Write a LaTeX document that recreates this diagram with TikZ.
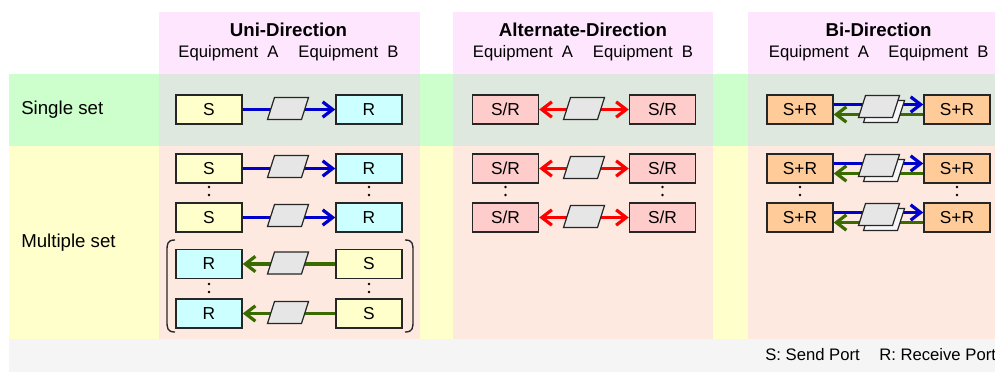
\documentclass[tikz,border=0pt]{standalone}
\usepackage{fontspec}
\setmainfont{Liberation Sans}
\usetikzlibrary{arrows.meta,calc}

% background bands
\definecolor{hdrpink}{HTML}{FFE6FF}
\definecolor{rowgreen}{HTML}{CCFFCC}
\definecolor{rowyellow}{HTML}{FFFFCC}
\definecolor{colgreen}{HTML}{DEE8DE}
\definecolor{colpeach}{HTML}{FDE9E0}
\definecolor{footgray}{HTML}{F5F5F5}
% ports and links
\definecolor{sendfill}{HTML}{FFFFCC}
\definecolor{recvfill}{HTML}{CCFFFF}
\definecolor{altfill}{HTML}{FFCCCC}
\definecolor{bifill}{HTML}{FFCC99}
\definecolor{linkgray}{HTML}{E6E6E6}
\definecolor{linkback}{HTML}{F7F7F7}
\definecolor{sendblue}{HTML}{0000CC}
\definecolor{recvgreen}{HTML}{3A6B00}
\definecolor{dirred}{HTML}{FF0000}
\definecolor{edgegray}{HTML}{262626}

\tikzset{
  port/.style={draw=edgegray, line width=1.1pt, minimum width=49.5pt,
    minimum height=21.75pt, inner sep=0pt, font=\fontsize{13}{15}\selectfont},
  sendport/.style={port, fill=sendfill},
  recvport/.style={port, fill=recvfill},
  altport/.style={port, fill=altfill},
  biport/.style={port, fill=bifill},
  % slanted rectangle = parallelogram link
  link/.style={rectangle, xslant=0.32, minimum width=25.5pt, minimum height=16.5pt,
    inner sep=0pt, draw=edgegray, line width=0.9pt, fill=linkgray},
  backlink/.style={link, fill=linkback},
  fwd/.style={draw=sendblue, line width=2.4pt, -{Straight Barb[length=7.5pt,width=11.5pt]}},
  bwd/.style={draw=recvgreen, line width=2.4pt, -{Straight Barb[length=7.5pt,width=11.5pt]}},
  both/.style={draw=dirred, line width=2.4pt,
    {Straight Barb[length=7.5pt,width=11.5pt]}-{Straight Barb[length=7.5pt,width=11.5pt]}},
  title/.style={font=\bfseries\fontsize{14}{16}\selectfont},
  equip/.style={font=\fontsize{12.5}{14}\selectfont, inner sep=0pt},
  rowlabel/.style={font=\fontsize{14}{16}\selectfont, anchor=west, inner sep=0pt},
  paren/.style={draw=edgegray, line width=1pt},
  dot/.style={fill=black}
}

\begin{document}
\begin{tikzpicture}[x=0.75pt,y=-0.75pt]
\useasboundingbox (0,0) rectangle (995,372);
\fill[white] (0,0) rectangle (995,372);

% row bands
\fill[rowgreen] (9,74) rectangle (995,146);
\fill[rowyellow] (9,146) rectangle (995,339);
\fill[footgray] (9,339) rectangle (995,372);

% column bands
\foreach \xa/\xb in {159/420, 453/713, 748/995}{
  \fill[hdrpink] (\xa,12) rectangle (\xb,74);
  \fill[colgreen] (\xa,74) rectangle (\xb,146);
  \fill[colpeach] (\xa,146) rectangle (\xb,339);
}

% headers
\node[title] (tuni) at (288.5,30) {Uni-Direction};
\node[equip] (euniA) at (228.5,53) {Equipment\ \ A};
\node[equip] (euniB) at (348.5,53) {Equipment\ \ B};
\node[title] (talt) at (583,30) {Alternate-Direction};
\node[equip] (ealtA) at (523,53) {Equipment\ \ A};
\node[equip] (ealtB) at (643,53) {Equipment\ \ B};
\node[title] (tbi) at (878.5,30) {Bi-Direction};
\node[equip] (ebiA) at (819,53) {Equipment\ \ A};
\node[equip] (ebiB) at (938.5,53) {Equipment\ \ B};

% row labels
\node[rowlabel] (lsingle) at (21,110) {Single set};
\node[rowlabel] (lmulti) at (21,243) {Multiple set};

% ---------------- Uni-Direction ----------------
\node[sendport] (u1a) at (209,109.5) {S};
\node[recvport] (u1b) at (369,109.5) {R};
\node[sendport] (u2a) at (209,168.5) {S};
\node[recvport] (u2b) at (369,168.5) {R};
\node[sendport] (u3a) at (209,217.5) {S};
\node[recvport] (u3b) at (369,217.5) {R};
\node[recvport] (u4a) at (209,264) {R};
\node[sendport] (u4b) at (369,264) {S};
\node[recvport] (u5a) at (209,313.5) {R};
\node[sendport] (u5b) at (369,313.5) {S};

\draw[fwd] (u1a) -- (u1b);
\draw[fwd] (u2a) -- (u2b);
\draw[fwd] (u3a) -- (u3b);
\draw[bwd] (u4b) -- (u4a);
\draw[bwd] (u5b) -- (u5a);

\node[link] (ul1) at (288,108.5) {};
\node[link] (ul2) at (288,166.5) {};
\node[link] (ul3) at (288,215.5) {};
\node[link] (ul4) at (288,263) {};
\node[link] (ul5) at (288,312.5) {};

% bracket around the reverse pair
\draw[paren] (175,240) .. controls (167,240) and (167,244) .. (167,252)
  -- (167,320) .. controls (167,328) and (167,332) .. (175,332);
\draw[paren] (405,240) .. controls (413,240) and (413,244) .. (413,252)
  -- (413,320) .. controls (413,328) and (413,332) .. (405,332);

% ---------------- Alternate-Direction ----------------
\node[altport] (a1a) at (505.5,109.5) {S/R};
\node[altport] (a1b) at (662.5,109.5) {S/R};
\node[altport] (a2a) at (505.5,168.5) {S/R};
\node[altport] (a2b) at (662.5,168.5) {S/R};
\node[altport] (a3a) at (505.5,217.5) {S/R};
\node[altport] (a3b) at (662.5,217.5) {S/R};

\draw[both] (a1a) -- (a1b);
\draw[both] (a2a) -- (a2b);
\draw[both] (a3a) -- (a3b);

\node[link] (al1) at (584,108.5) {};
\node[link] (al2) at (584,167.5) {};
\node[link] (al3) at (584,216.5) {};

% ---------------- Bi-Direction ----------------
\node[biport] (b1a) at (800,109.5) {S+R};
\node[biport] (b1b) at (957,109.5) {S+R};
\node[biport] (b2a) at (800,168.5) {S+R};
\node[biport] (b2b) at (957,168.5) {S+R};
\node[biport] (b3a) at (800,217.5) {S+R};
\node[biport] (b3b) at (957,217.5) {S+R};

\foreach \r in {1,2,3}{
  \draw[fwd] ([yshift=3.75pt]b\r a.east) -- ([yshift=3.75pt]b\r b.west);
  \draw[bwd] ([yshift=-3.75pt]b\r b.west) -- ([yshift=-3.75pt]b\r a.east);
}

\node[backlink] (bk1) at (884,111.5) {};
\node[link] (bf1) at (879,106.5) {};
\node[backlink] (bk2) at (884,170.5) {};
\node[link] (bf2) at (879,165.5) {};
\node[backlink] (bk3) at (884,219.5) {};
\node[link] (bf3) at (879,214.5) {};

% continuation dots
\foreach \x in {209,369,505.5,662.5,800,957}{
  \fill[dot] (\x,187) circle (1.4);
  \fill[dot] (\x,195) circle (1.4);
}
\foreach \x in {209,369}{
  \fill[dot] (\x,284) circle (1.4);
  \fill[dot] (\x,292) circle (1.4);
}

% legend
\node[equip, anchor=west] (legS) at (765,355) {S: Send Port};
\node[equip, anchor=west] (legR) at (879,355) {R: Receive Port};
\end{tikzpicture}
\end{document}
